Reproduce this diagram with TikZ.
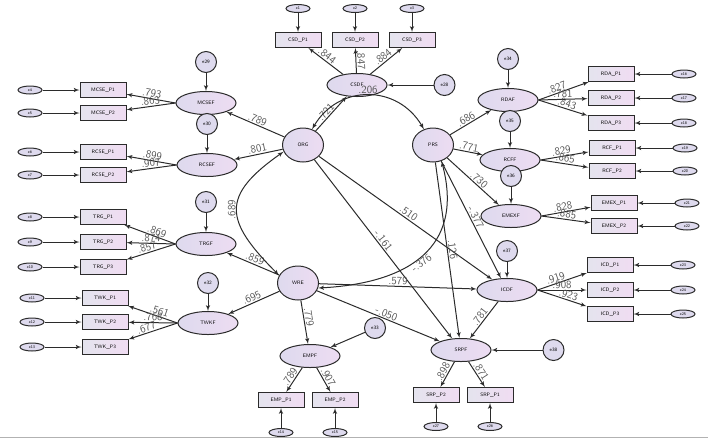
\documentclass[tikz,border=0pt]{standalone}
\usepackage{xcolor}
\definecolor{LINECOLOR}{HTML}{2B2B2B}
\definecolor{COEFCOLOR}{HTML}{555555}
\definecolor{ITEMLEFT}{HTML}{E4E4EE}
\definecolor{ITEMRIGHT}{HTML}{F0DCF2}
\definecolor{FACTORLEFT}{HTML}{DEDAEE}
\definecolor{FACTORRIGHT}{HTML}{EDDCF2}
\colorlet{ERRCOLOR}{FACTORLEFT}
\colorlet{RULECOLOR}{gray!60}
\usepackage{tikz}
\usetikzlibrary{shapes,arrows,positioning,calc}
\tikzset{
  basic-style/.style = {
    draw=LINECOLOR, line width=1pt,
    inner sep=1pt,
    font=\fontsize{5}{6}\selectfont\sffamily
  },
  item-style/.style = {
    basic-style, rectangle,
    left color=ITEMLEFT, right color=ITEMRIGHT,
    minimum width=46pt,
    minimum height=15pt
  },
  factor-style/.style = {
    basic-style, ellipse,
    left color=FACTORLEFT, right color=FACTORRIGHT,
    minimum width=60pt,
    minimum height=23pt
  },
  latent-style/.style = {
    factor-style,
    minimum width=41pt,
    minimum height=34pt
  },
  err-style/.style = {
    basic-style, ellipse, fill=ERRCOLOR,
    minimum width=24pt, minimum height=8pt, inner sep=0pt,
    font=\fontsize{4}{4}\selectfont\sffamily
  },
  res-style/.style = {
    basic-style, circle, fill=ERRCOLOR,
    minimum size=21pt, inner sep=0pt
  },
  coef-style/.style = {
    font=\fontsize{11}{11}\selectfont\sffamily, text=COEFCOLOR,
    inner sep=1pt, sloped, above
  },
  cov-style/.style = {<->},
  every edge/.style = {draw, ->, >=latex', line width=1pt, LINECOLOR}
}
\newlength\errDistance
\setlength\errDistance{37pt}
\def\createItem name:#1 display:#2 at:#3 err:#4 direct:#5 dist:#6;{
  \node [item-style] (#1) at (#3) {#2};
  \node [err-style, #5=#6 of #1] (#4) {#4}
        edge (#1);
}
\def\createFactor name:#1 display:#2 at:#3;{
  \node [factor-style] (#1) at (#3) {#2};
}
\def\createResidual name:#1 direct:#2 to:#3 dist:#4;{
  \node [res-style, #2=#4 of #3] (#1) {#1}
        edge (#3);
}
\begin{document}
\begin{tikzpicture}[x=1pt,y=-1pt]
  \useasboundingbox (0,0) rectangle (708,440);

  \node [latent-style] (ORG) at (303,145) {ORG};
  \node [latent-style] (PRS) at (433,145) {PRS};
  \node [latent-style] (WRE) at (298,283) {WRE};

  \createFactor name:CSDF display:CSDF at:{357,85};
  \createFactor name:MCSEF display:MCSEF at:{206,103};
  \createFactor name:RCSEF display:RCSEF at:{207,165};
  \createFactor name:TRGF display:TRGF at:{206,244};
  \createFactor name:TWKF display:TWKF at:{208,323};
  \createFactor name:RDAF display:RDAF at:{508,100};
  \createFactor name:RCFF display:RCFF at:{510,160};
  \createFactor name:EMEXF display:EMEXF at:{511,216};
  \createFactor name:ICDF display:ICDF at:{507,290};
  \createFactor name:SRPF display:SRPF at:{461,350};
  \createFactor name:EMPF display:EMPF at:{310,356};

  \createItem name:csd1 display:{CSD\_P1} at:{298,40} err:e1 direct:above dist:19pt;
  \createItem name:csd2 display:{CSD\_P2} at:{355,40} err:e2 direct:above dist:19pt;
  \createItem name:csd3 display:{CSD\_P3} at:{412,40} err:e3 direct:above dist:19pt;
  \createItem name:mcse1 display:{MCSE\_P1} at:{103,90} err:e4 direct:left dist:\errDistance;
  \createItem name:mcse2 display:{MCSE\_P2} at:{103,113} err:e5 direct:left dist:\errDistance;
  \createItem name:rcse1 display:{RCSE\_P1} at:{103,152} err:e6 direct:left dist:\errDistance;
  \createItem name:rcse2 display:{RCSE\_P2} at:{103,175} err:e7 direct:left dist:\errDistance;
  \createItem name:trg1 display:{TRG\_P1} at:{103,217} err:e8 direct:left dist:\errDistance;
  \createItem name:trg2 display:{TRG\_P2} at:{103,242} err:e9 direct:left dist:\errDistance;
  \createItem name:trg3 display:{TRG\_P3} at:{103,267} err:e10 direct:left dist:\errDistance;
  \createItem name:twk1 display:{TWK\_P1} at:{105,298} err:e11 direct:left dist:\errDistance;
  \createItem name:twk2 display:{TWK\_P2} at:{105,322} err:e12 direct:left dist:\errDistance;
  \createItem name:twk3 display:{TWK\_P3} at:{105,347} err:e13 direct:left dist:\errDistance;
  \createItem name:emp1 display:{EMP\_P1} at:{281,400} err:e14 direct:below dist:20pt;
  \createItem name:emp2 display:{EMP\_P2} at:{335,400} err:e15 direct:below dist:20pt;
  \createItem name:rda1 display:{RDA\_P1} at:{611,74} err:e16 direct:right dist:\errDistance;
  \createItem name:rda2 display:{RDA\_P2} at:{611,98} err:e17 direct:right dist:\errDistance;
  \createItem name:rda3 display:{RDA\_P3} at:{611,123} err:e18 direct:right dist:\errDistance;
  \createItem name:rcf1 display:{RCF\_P1} at:{612,148} err:e19 direct:right dist:\errDistance;
  \createItem name:rcf2 display:{RCF\_P2} at:{612,171} err:e20 direct:right dist:\errDistance;
  \createItem name:emex1 display:{EMEX\_P1} at:{614,203} err:e21 direct:right dist:\errDistance;
  \createItem name:emex2 display:{EMEX\_P2} at:{614,226} err:e22 direct:right dist:\errDistance;
  \createItem name:icd1 display:{ICD\_P1} at:{610,265} err:e23 direct:right dist:\errDistance;
  \createItem name:icd2 display:{ICD\_P2} at:{610,290} err:e24 direct:right dist:\errDistance;
  \createItem name:icd3 display:{ICD\_P3} at:{610,314} err:e25 direct:right dist:\errDistance;
  \createItem name:srp1 display:{SRP\_P1} at:{490,395} err:e26 direct:below dist:19pt;
  \createItem name:srp2 display:{SRP\_P2} at:{436,395} err:e27 direct:below dist:19pt;

  \createResidual name:e28 direct:right to:CSDF dist:46pt;
  \createResidual name:e29 direct:above to:MCSEF dist:18pt;
  \createResidual name:e30 direct:above to:RCSEF dist:18pt;
  \createResidual name:e31 direct:above to:TRGF dist:19pt;
  \createResidual name:e32 direct:above to:TWKF dist:17pt;
  \createResidual name:e34 direct:above to:RDAF dist:18pt;
  \createResidual name:e35 direct:above to:RCFF dist:16pt;
  \createResidual name:e36 direct:above to:EMEXF dist:17pt;
  \createResidual name:e37 direct:above to:ICDF dist:16pt;
  \createResidual name:e38 direct:right to:SRPF dist:51pt;
  \node [res-style] (e33) at (375,328) {e33} edge (EMPF);

  % loadings
  \path (CSDF) edge node[coef-style, pos=.55] {.844} (csd1)
               edge node[coef-style] {.847} (csd2)
               edge node[coef-style] {.884} (csd3);
  \path (MCSEF.west) edge node[coef-style] {.793} (mcse1)
                     edge node[coef-style] {.863} (mcse2);
  \path (RCSEF.west) edge node[coef-style] {.899} (rcse1)
                     edge node[coef-style] {.907} (rcse2);
  \path (TRGF.west) edge node[coef-style, pos=.4] {.869} (trg1)
                    edge node[coef-style] {.874} (trg2)
                    edge node[coef-style, pos=.55] {.857} (trg3);
  \path (TWKF.west) edge node[coef-style, pos=.4] {.561} (twk1)
                    edge node[coef-style] {.768} (twk2)
                    edge node[coef-style, pos=.6] {.677} (twk3);
  \path (RDAF.east) edge node[coef-style, pos=.4] {.827} (rda1)
                    edge node[coef-style] {.781} (rda2)
                    edge node[coef-style, pos=.55] {.843} (rda3);
  \path (RCFF.east) edge node[coef-style, pos=.45] {.829} (rcf1)
                    edge node[coef-style] {.865} (rcf2);
  \path (EMEXF.east) edge node[coef-style, pos=.45] {.828} (emex1)
                     edge node[coef-style] {.885} (emex2);
  \path (ICDF.east) edge node[coef-style, pos=.4] {.919} (icd1)
                    edge node[coef-style] {.908} (icd2)
                    edge node[coef-style, pos=.6] {.923} (icd3);
  \path (EMPF) edge node[coef-style] {.789} (emp1)
               edge node[coef-style] {.907} (emp2);
  \path (SRPF) edge node[coef-style] {.898} (srp2)
               edge node[coef-style] {.871} (srp1);

  % structural paths
  \path (ORG) edge node[coef-style, pos=.45] {.721} (CSDF)
              edge node[coef-style] {.789} (MCSEF)
              edge node[coef-style] {.801} (RCSEF)
              edge node[coef-style] {.510} (ICDF)
              edge node[coef-style, pos=.47] {-.161} (SRPF);
  \path (PRS) edge node[coef-style, pos=.45] {.686} (RDAF)
              edge node[coef-style] {.771} (RCFF)
              edge node[coef-style, pos=.55] {.730} (EMEXF)
              edge node[coef-style] {-.377} (ICDF)
              edge node[coef-style] {.126} (SRPF);
  \path (WRE) edge node[coef-style] {.859} (TRGF)
              edge node[coef-style] {.695} (TWKF)
              edge node[coef-style, pos=.4] {.779} (EMPF)
              edge node[coef-style] {.579} (ICDF)
              edge node[coef-style, pos=.55] {-.050} (SRPF);
  \path (ICDF) edge node[coef-style] {.781} (SRPF);

  % covariances
  \path (ORG.60) edge[cov-style, out=60, in=120, looseness=1.2] node[coef-style] {.206} (PRS.120);
  \path (ORG.199) edge[cov-style, out=215, in=135, looseness=1.6] node[coef-style] {.689} (WRE.158);
  \path (WRE.-14) edge[cov-style, out=3, in=-75, looseness=1.3] node[coef-style, below, pos=.47] {-.376} (PRS.-62);

  \coordinate (rule-w) at (0,437);
  \coordinate (rule-e) at (708,437);
  \draw[RULECOLOR, line width=1pt] (rule-w) -- (rule-e);
\end{tikzpicture}
\end{document}
